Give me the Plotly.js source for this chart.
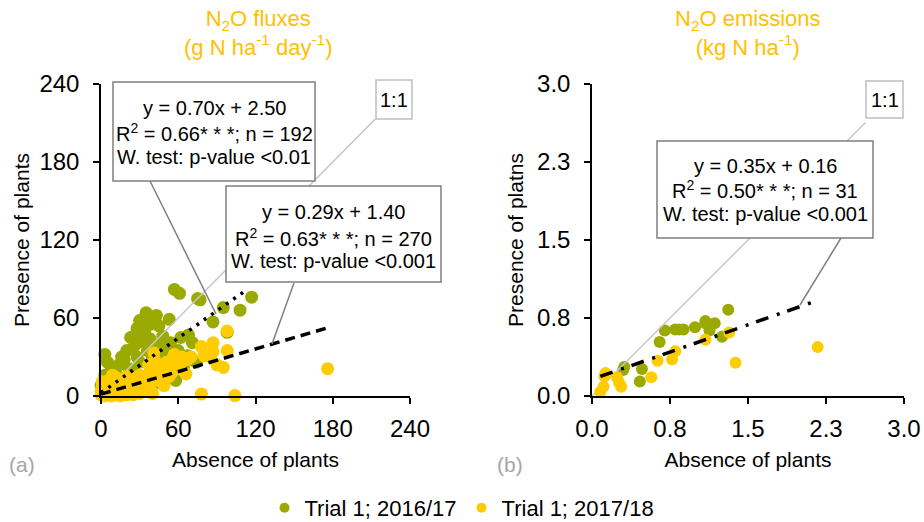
<!DOCTYPE html>
<html>
<head>
<meta charset="utf-8">
<script src="https://cdn.plot.ly/plotly-3.0.1.min.js"></script>
<style>
  html, body { margin: 0; padding: 0; background: #fff; }
  #chart { width: 924px; height: 522px; }
</style>
</head>
<body>
<div id="chart"></div>
<script>
// ---------------- DATA ----------------
// (a) N2O fluxes, g N ha-1 day-1  — Trial 1; 2016/17
const fluxX_1617 = [0,2,3,3,5,6,8,9,10,12,13,14,16,17,18,20,21,22,23,24,25,26,27,28,28,30,30,31,32,33,34,35,36,37,38,38,39,40,41,42,43,44,45,45,46,47,48,50,51,52,53,54,55,57,58,60,61,62,64,65,67,68,70,71,74,75,77,87,95,98,108,117];
const fluxY_1617 = [8,4,16,32,26,10,20,3,12,16,6,24,30,9,28,35,14,21,45,45,37,18,40,30,52,26,58,42,48,12,50,64,35,60,44,55,57,30,20,38,62,28,54,24,10,41,46,35,16,20,59,41,30,82,12,35,79,45,22,30,31,47,28,41,26,75,74,57,68,49,66,76];
// (a) Trial 1; 2017/18
const fluxX_1718 = [0,0,1,1,2,2,3,4,4,5,5,6,7,7,8,8,9,9,10,10,11,12,12,13,14,15,15,16,17,18,19,20,20,21,22,23,24,25,26,27,28,30,30,31,32,34,35,36,37,38,39,40,41,42,43,45,47,49,51,53,55,55,57,58,60,61,63,66,67,70,78,78,80,85,87,87,90,95,98,98,104,176];
const fluxY_1718 = [1,4,8,11,2,5,0,3,9,1,6,12,3,8,0,5,2,16,10,4,1,7,14,3,10,0,5,12,2,7,4,15,1,9,3,6,9,1,4,14,7,16,2,10,6,13,4,16,24,9,16,2,33,27,18,12,22,8,26,15,28,18,32,21,24,22,30,17,28,30,38,1.5,31,30,41,34,24,22,35,50,0.3,21];

// (b) N2O emissions, kg N ha-1 — Trial 1; 2016/17
const emisX_1617 = [0.30,0.31,0.46,0.48,0.65,0.70,0.80,0.84,0.88,0.99,1.09,1.13,1.18,1.25,1.31,1.09];
const emisY_1617 = [0.25,0.28,0.14,0.26,0.52,0.63,0.64,0.64,0.64,0.66,0.72,0.63,0.70,0.57,0.83,0.70];
// (b) Trial 1; 2017/18
const emisX_1718 = [0.08,0.11,0.12,0.24,0.28,0.26,0.57,0.63,0.77,0.80,1.09,1.32,1.38,2.17,0.13];
const emisY_1718 = [0.04,0.09,0.19,0.18,0.09,0.13,0.18,0.34,0.35,0.43,0.54,0.61,0.32,0.47,0.22];

// regression fits (slope, intercept, x-extent)
const fitA_1617 = {slope: 0.70, intercept: 2.50, xFrom: 0, xTo: 114};
const fitA_1718 = {slope: 0.29, intercept: 1.40, xFrom: 0, xTo: 176};
const fitB_all  = {slope: 0.35, intercept: 0.16, xFrom: 0.08, xTo: 2.12};

// 1:1 reference line extents
const oneToOneA = [0, 213];
const oneToOneB = [0, 2.63];

// ticks
const tickValsA = [0, 60, 120, 180, 240];
const tickTextA = ["0", "60", "120", "180", "240"];
const tickValsB = [0, 0.75, 1.5, 2.25, 3.0];
const tickTextB = ["0.0", "0.8", "1.5", "2.3", "3.0"];

// texts
const seriesNames = ["Trial 1; 2016/17", "Trial 1; 2017/18"];
const titleA = "N<sub>2</sub>O fluxes<br>(g N ha<sup>-1</sup> day<sup>-1</sup>)";
const titleB = "N<sub>2</sub>O emissions<br>(kg N ha<sup>-1</sup>)";
const statsA1 = ["y = 0.70x + 2.50", "R<sup>2</sup> = 0.66* * *; n = 192", "W. test: p-value <0.01"];
const statsA2 = ["y = 0.29x + 1.40", "R<sup>2</sup> = 0.63* * *; n = 270", "W. test: p-value <0.001"];
const statsB  = ["y = 0.35x + 0.16", "R<sup>2</sup> = 0.50* * *; n = 31", "W. test: p-value <0.001"];

// ---------------- STYLE ----------------
const GREEN = "#9BAA00";
const YELLOW = "#FFCC00";
const GOLD = "#FFC000";
const FONT = "Liberation Sans, Arial, sans-serif";
const W = 924, H = 522;
const px = v => v / W;
const py = v => 1 - v / H;

function fitLine(f) {
  const xs = [f.xFrom, f.xTo];
  return {x: xs, y: xs.map(x => f.slope * x + f.intercept)};
}

const traces = [];
// panel (a)
traces.push({x: fluxX_1617, y: fluxY_1617, xaxis: 'x', yaxis: 'y', type: 'scatter', mode: 'markers',
  marker: {color: GREEN, size: 13, line: {width: 0}}, showlegend: false, cliponaxis: false, hoverinfo: 'x+y'});
traces.push({x: oneToOneA, y: oneToOneA, xaxis: 'x', yaxis: 'y', type: 'scatter', mode: 'lines',
  line: {color: '#C8C8C8', width: 1.5}, showlegend: false, hoverinfo: 'skip'});
traces.push({x: fluxX_1718, y: fluxY_1718, xaxis: 'x', yaxis: 'y', type: 'scatter', mode: 'markers',
  marker: {color: YELLOW, size: 13, line: {width: 0}}, showlegend: false, cliponaxis: false, hoverinfo: 'x+y'});
const la1 = fitLine(fitA_1617);
traces.push({x: la1.x, y: la1.y, xaxis: 'x', yaxis: 'y', type: 'scatter', mode: 'lines',
  line: {color: 'black', width: 3.5, dash: '3px,6px'}, showlegend: false, hoverinfo: 'skip'});
const la2 = fitLine(fitA_1718);
traces.push({x: la2.x, y: la2.y, xaxis: 'x', yaxis: 'y', type: 'scatter', mode: 'lines',
  line: {color: 'black', width: 3.5, dash: '10px,6px'}, showlegend: false, hoverinfo: 'skip'});
// panel (b)
traces.push({x: emisX_1617, y: emisY_1617, xaxis: 'x2', yaxis: 'y2', type: 'scatter', mode: 'markers',
  marker: {color: GREEN, size: 12, line: {width: 0}}, showlegend: false, cliponaxis: false, hoverinfo: 'x+y'});
traces.push({x: oneToOneB, y: oneToOneB, xaxis: 'x2', yaxis: 'y2', type: 'scatter', mode: 'lines',
  line: {color: '#C8C8C8', width: 1.5}, showlegend: false, hoverinfo: 'skip'});
traces.push({x: emisX_1718, y: emisY_1718, xaxis: 'x2', yaxis: 'y2', type: 'scatter', mode: 'markers',
  marker: {color: YELLOW, size: 12, line: {width: 0}}, showlegend: false, cliponaxis: false, hoverinfo: 'x+y'});
const lb = fitLine(fitB_all);
traces.push({x: lb.x, y: lb.y, xaxis: 'x2', yaxis: 'y2', type: 'scatter', mode: 'lines',
  line: {color: 'black', width: 3.5, dash: '13px,9px,3px,8px'}, showlegend: false, hoverinfo: 'skip'});
// legend entries
traces.push({x: [null], y: [null], type: 'scatter', mode: 'markers', name: seriesNames[0],
  marker: {color: GREEN, size: 10}, xaxis: 'x', yaxis: 'y'});
traces.push({x: [null], y: [null], type: 'scatter', mode: 'markers', name: seriesNames[1],
  marker: {color: YELLOW, size: 10}, xaxis: 'x', yaxis: 'y'});

const axisBase = {
  showgrid: false, zeroline: false, showline: true, linecolor: 'black', linewidth: 1.5,
  ticks: 'outside', ticklen: 6, tickwidth: 1.5, tickcolor: 'black',
  tickfont: {family: FONT, size: 24, color: 'black'}, tickmode: 'array', fixedrange: true,
  automargin: false
};
const titleFont = {family: FONT, size: 21, color: 'black'};

const layout = {
  width: W, height: H,
  margin: {l: 0, r: 0, t: 0, b: 0, pad: 0, autoexpand: false},
  paper_bgcolor: 'white', plot_bgcolor: 'rgba(0,0,0,0)',
  font: {family: FONT, color: 'black'},
  xaxis: Object.assign({}, axisBase, {domain: [px(101), px(410)], range: [0, 240], tickvals: tickValsA, ticktext: tickTextA,
    anchor: 'y', ticklabelstandoff: 4, title: {text: 'Absence of plants', font: titleFont, standoff: 12}}),
  yaxis: Object.assign({}, axisBase, {domain: [py(396), py(84)], range: [0, 240], tickvals: tickValsA, ticktext: tickTextA,
    anchor: 'x', ticklabelstandoff: 9, title: {text: 'Presence of plants', font: titleFont, standoff: 4}}),
  xaxis2: Object.assign({}, axisBase, {domain: [px(592), px(904)], range: [0, 3], tickvals: tickValsB, ticktext: tickTextB,
    anchor: 'y2', ticklabelstandoff: 4, title: {text: 'Absence of plants', font: titleFont, standoff: 12}}),
  yaxis2: Object.assign({}, axisBase, {domain: [py(396), py(84)], range: [0, 3], tickvals: tickValsB, ticktext: tickTextB,
    anchor: 'x2', ticklabelstandoff: 9, title: {text: 'Presence of platns', font: titleFont, standoff: 8}}),
  showlegend: true,
  legend: {orientation: 'h', x: 0.5, xanchor: 'center', y: py(508), yanchor: 'middle',
    font: {family: FONT, size: 22, color: 'black'}, bgcolor: 'rgba(0,0,0,0)', itemclick: false, itemdoubleclick: false},
  shapes: [],
  annotations: []
};

// statistic boxes
function addBox(x0, x1, y0, y1, lines, lineYs, border) {
  layout.shapes.push({type: 'rect', xref: 'paper', yref: 'paper', layer: 'above',
    x0: px(x0), x1: px(x1), y0: py(y1), y1: py(y0), fillcolor: 'white', line: {color: border, width: 1.5}});
  lines.forEach((t, i) => {
    layout.annotations.push({xref: 'paper', yref: 'paper', x: px((x0 + x1) / 2), y: py(lineYs[i]),
      xanchor: 'center', yanchor: 'middle', showarrow: false, text: t,
      font: {family: FONT, size: 20, color: 'black'}});
  });
}
function addLeader(x0, y0, x1, y1, color) {
  layout.shapes.push({type: 'line', xref: 'paper', yref: 'paper', layer: 'above',
    x0: px(x0), y0: py(y0), x1: px(x1), y1: py(y1), line: {color: color, width: 1.5}});
}
addLeader(150, 181, 216, 314, '#7F7F7F');
addLeader(294, 283, 272, 344, '#7F7F7F');
addLeader(841, 238, 800, 305, '#7F7F7F');
addBox(113, 315, 82, 181, statsA1, [108, 133, 157], '#7F7F7F');
addBox(226, 441, 186, 282, statsA2, [212, 237, 261], '#7F7F7F');
addBox(376, 412, 80, 119, ["1:1"], [100], '#BFBFBF');
addBox(657, 873, 141, 238, statsB, [166, 190, 214], '#7F7F7F');
addBox(866, 903, 81, 118, ["1:1"], [100], '#BFBFBF');

// panel titles
layout.annotations.push({xref: 'paper', yref: 'paper', x: px(258), y: py(33), xanchor: 'center', yanchor: 'middle',
  showarrow: false, text: titleA, font: {family: FONT, size: 22, color: GOLD}});
layout.annotations.push({xref: 'paper', yref: 'paper', x: px(748), y: py(33), xanchor: 'center', yanchor: 'middle',
  showarrow: false, text: titleB, font: {family: FONT, size: 22, color: GOLD}});
// panel letters
layout.annotations.push({xref: 'paper', yref: 'paper', x: px(7), y: py(464), xanchor: 'left', yanchor: 'middle',
  showarrow: false, text: '(a)', font: {family: FONT, size: 21, color: '#A6A6A6'}});
layout.annotations.push({xref: 'paper', yref: 'paper', x: px(495), y: py(464), xanchor: 'left', yanchor: 'middle',
  showarrow: false, text: '(b)', font: {family: FONT, size: 21, color: '#A6A6A6'}});

Plotly.newPlot('chart', traces, layout, {displayModeBar: false, staticPlot: false, responsive: false});
</script>
</body>
</html>
